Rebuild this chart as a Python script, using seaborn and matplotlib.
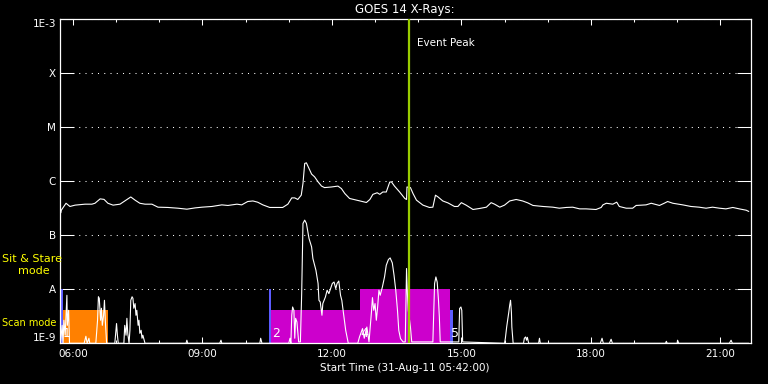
import matplotlib
matplotlib.use("Agg")
import matplotlib.pyplot as plt
import seaborn as sns
import pandas as pd
from matplotlib.ticker import FixedLocator, NullLocator, FixedFormatter

# ---------------- data ----------------
title = "GOES 14 X-Rays:"
x_label = "Start Time (31-Aug-11 05:42:00)"
x_start, x_end = 5.7, 21.7          # hours of day
x_major_hours = [6, 9, 12, 15, 18, 21]
x_major_labels = ["06:00", "09:00", "12:00", "15:00", "18:00", "21:00"]
x_minor_hours = [7, 8, 10, 11, 13, 14, 16, 17, 19, 20, 21]
y_tick_values = [1e-9, 1e-8, 1e-7, 1e-6, 1e-5, 1e-4, 1e-3]
y_tick_labels = ["1E-9", "A", "B", "C", "M", "X", "1E-3"]

# long channel (1-8 A)
long_time = [5.72, 5.73, 5.84, 5.93, 6.05, 6.28, 6.44, 6.51, 6.63, 6.72, 6.81, 6.93,
             7.09, 7.20, 7.34, 7.44, 7.55, 7.67, 7.83, 7.97, 8.20, 8.43, 8.64, 8.83,
             8.99, 9.22, 9.45, 9.59, 9.80, 9.91, 10.05, 10.17, 10.28, 10.40, 10.56,
             10.72, 10.86, 10.98, 11.07, 11.14, 11.21, 11.29, 11.33, 11.37, 11.41,
             11.47, 11.53, 11.60, 11.68, 11.76, 11.83, 11.99, 12.14, 12.22, 12.30,
             12.41, 12.57, 12.80, 12.88, 12.95, 13.05, 13.11, 13.18, 13.26, 13.34,
             13.38, 13.45, 13.57, 13.69, 13.73, 13.74, 13.82, 13.88, 13.96, 14.11,
             14.26, 14.34, 14.40, 14.46, 14.57, 14.69, 14.84, 14.92, 15.00, 15.11,
             15.27, 15.42, 15.58, 15.69, 15.77, 15.89, 16.00, 16.12, 16.27, 16.42,
             16.54, 16.66, 16.89, 17.12, 17.27, 17.43, 17.58, 17.74, 17.89, 18.12,
             18.24, 18.28, 18.36, 18.51, 18.60, 18.66, 18.82, 18.97, 19.05, 19.28,
             19.40, 19.59, 19.70, 19.78, 19.90, 20.13, 20.32, 20.51, 20.67, 20.82,
             20.98, 21.13, 21.29, 21.44, 21.60, 21.66]
long_flux = [2.6e-7, 2.9e-7, 3.9e-7, 3.4e-7, 3.6e-7, 3.75e-7, 3.75e-7, 3.9e-7, 4.7e-7,
             4.6e-7, 3.9e-7, 3.6e-7, 3.75e-7, 4.3e-7, 5.1e-7, 4.45e-7, 3.9e-7, 3.75e-7,
             3.75e-7, 3.3e-7, 3.26e-7, 3.16e-7, 3.03e-7, 3.2e-7, 3.3e-7, 3.4e-7, 3.64e-7,
             3.55e-7, 3.75e-7, 3.64e-7, 4.2e-7, 4.3e-7, 4.08e-7, 3.64e-7, 3.26e-7,
             3.26e-7, 3.26e-7, 3.75e-7, 4.9e-7, 4.9e-7, 4.58e-7, 5.5e-7, 9.05e-7,
             2.13e-6, 2.18e-6, 1.72e-6, 1.35e-6, 1.2e-6, 9.7e-7, 8.1e-7, 7.6e-7, 7.8e-7,
             8.1e-7, 7.3e-7, 5.9e-7, 4.78e-7, 4.45e-7, 4.03e-7, 4.58e-7, 5.7e-7, 6.1e-7,
             5.7e-7, 6.3e-7, 6.3e-7, 9.6e-7, 9.7e-7, 8.1e-7, 6.3e-7, 4.78e-7, 4.58e-7,
             7.8e-7, 7.6e-7, 5.9e-7, 4.45e-7, 3.6e-7, 3.26e-7, 3.3e-7, 5.5e-7, 5.1e-7,
             4.3e-7, 3.96e-7, 3.4e-7, 3.4e-7, 4.0e-7, 3.6e-7, 2.99e-7, 3.12e-7, 3.3e-7,
             4.0e-7, 3.75e-7, 3.3e-7, 3.6e-7, 4.3e-7, 4.58e-7, 4.3e-7, 3.96e-7, 3.55e-7,
             3.4e-7, 3.3e-7, 3.16e-7, 3.26e-7, 3.3e-7, 3.07e-7, 3.07e-7, 2.99e-7,
             3.26e-7, 3.64e-7, 3.9e-7, 3.75e-7, 4.08e-7, 3.4e-7, 3.16e-7, 3.16e-7,
             3.55e-7, 3.64e-7, 3.9e-7, 3.55e-7, 3.9e-7, 4.2e-7, 3.9e-7, 3.64e-7, 3.4e-7,
             3.3e-7, 3.16e-7, 3.3e-7, 3.16e-7, 3.07e-7, 3.26e-7, 3.07e-7, 2.9e-7, 2.75e-7]

# short channel (0.5-4 A)
short_time = [5.71, 5.75, 5.77, 5.79, 5.82, 5.86, 5.87, 5.90, 5.92, 6.26, 6.30, 6.33,
              6.37, 6.39, 6.53, 6.57, 6.59, 6.61, 6.64, 6.66, 6.68, 6.71, 6.73, 6.75,
              6.78, 6.97, 7.01, 7.03, 7.05, 7.18, 7.20, 7.23, 7.25, 7.27, 7.30, 7.32,
              7.34, 7.37, 7.39, 7.41, 7.44, 7.46, 7.48, 7.51, 7.53, 7.55, 7.58, 7.60,
              7.62, 7.67, 8.62, 8.64, 8.66, 9.40, 9.43, 9.45, 10.33, 10.35, 10.38,
              11.00, 11.03, 11.05, 11.07, 11.09, 11.12, 11.14, 11.16, 11.19, 11.23,
              11.27, 11.30, 11.33, 11.37, 11.41, 11.47, 11.53, 11.56, 11.63, 11.68,
              11.70, 11.73, 11.77, 11.79, 11.85, 11.89, 11.93, 11.97, 12.01, 12.05,
              12.09, 12.12, 12.16, 12.20, 12.23, 12.26, 12.32, 12.35, 12.38, 12.60,
              12.64, 12.71, 12.75, 12.81, 12.86, 12.92, 12.94, 12.97, 13.00, 13.03,
              13.06, 13.09, 13.12, 13.17, 13.22, 13.26, 13.31, 13.35, 13.40, 13.44,
              13.48, 13.52, 13.55, 13.59, 13.65, 13.70, 13.73, 13.75, 13.77, 13.82,
              13.85, 14.34, 14.38, 14.41, 14.44, 14.47, 14.49, 14.51, 14.94, 14.96,
              14.99, 15.01, 15.03, 16.00, 16.02, 16.05, 16.08, 16.10, 16.12, 16.14,
              16.16, 16.17, 16.20, 16.44, 16.46, 16.49, 16.51, 16.53, 16.56, 16.79,
              16.81, 16.83, 18.22, 18.26, 18.29, 18.43, 18.47, 18.50, 19.73, 19.75,
              19.77, 20.00, 20.01, 20.04, 21.21, 21.25, 21.28, 21.66]
short_flux = [1.0e-9, 2.15e-9, 1.0e-9, 2.67e-9, 1.41e-9, 7.74e-9, 2.15e-9, 4.08e-9,
              1.0e-9, 1.0e-9, 1.35e-9, 1.0e-9, 1.24e-9, 1.0e-9, 1.0e-9, 2.67e-9,
              7.26e-9, 6.8e-9, 2.67e-9, 4.45e-9, 2.15e-9, 3.3e-9, 6.25e-9, 2.67e-9,
              1.0e-9, 1.0e-9, 2.32e-9, 1.41e-9, 1.0e-9, 1.0e-9, 2.15e-9, 1.41e-9,
              2.9e-9, 1.53e-9, 1.0e-9, 1.74e-9, 6.25e-9, 7.26e-9, 6.8e-9, 4.45e-9,
              5.43e-9, 3.3e-9, 4.08e-9, 2.15e-9, 2.67e-9, 1.53e-9, 1.74e-9, 1.24e-9,
              1.41e-9, 1.0e-9, 1.0e-9, 1.14e-9, 1.0e-9, 1.0e-9, 1.14e-9, 1.0e-9,
              1.0e-9, 1.24e-9, 1.0e-9, 1.0e-9, 1.24e-9, 1.0e-9, 3.3e-9, 4.7e-9,
              4.08e-9, 1.24e-9, 2.9e-9, 2.48e-9, 1.06e-9, 1.06e-9, 8.3e-9, 1.65e-7,
              1.9e-7, 1.65e-7, 8.7e-8, 6.07e-8, 3.7e-8, 2.25e-8, 1.28e-8, 6.25e-9,
              5.82e-9, 3.3e-9, 5.43e-9, 7.2e-9, 9.6e-9, 8.3e-9, 1.03e-8, 1.28e-8,
              1.36e-8, 1.03e-8, 1.28e-8, 1.42e-8, 7.74e-9, 6.25e-9, 4.08e-9, 1.74e-9,
              1.31e-9, 1.0e-9, 1.0e-9, 1.31e-9, 1.87e-9, 1.24e-9, 2.0e-9, 1.06e-9,
              4.08e-9, 7.0e-9, 4.08e-9, 5.43e-9, 2.67e-9, 4.7e-9, 9.6e-9, 7.74e-9,
              1.1e-8, 1.69e-8, 2.78e-8, 3.55e-8, 3.8e-8, 3.07e-8, 1.82e-8, 9.6e-9,
              4.08e-9, 1.74e-9, 1.22e-9, 1.06e-9, 1.06e-9, 2.42e-8, 8.3e-9, 4.08e-9,
              2.0e-9, 1.06e-9, 1.06e-9, 1.28e-8, 1.69e-8, 1.36e-8, 6.25e-9, 3.07e-9,
              1.06e-9, 1.06e-9, 4.4e-9, 4.7e-9, 4.08e-9, 1.06e-9, 1.0e-9, 1.24e-9,
              2.0e-9, 2.9e-9, 3.8e-9, 5.06e-9, 6.25e-9, 3.75e-9, 2.0e-9, 1.0e-9,
              1.0e-9, 1.24e-9, 1.31e-9, 1.14e-9, 1.29e-9, 1.0e-9, 1.0e-9, 1.24e-9,
              1.0e-9, 1.0e-9, 1.24e-9, 1.0e-9, 1.0e-9, 1.19e-9, 1.0e-9, 1.0e-9,
              1.09e-9, 1.0e-9, 1.0e-9, 1.14e-9, 1.0e-9, 1.0e-9, 1.14e-9, 1.0e-9, 1.0e-9]

# instrument mode bars
mode_start = [5.72, 5.77, 10.54, 10.60, 12.64, 14.73]
mode_end = [5.77, 6.81, 10.60, 14.73, 14.73, 14.80]
mode_level = [1.0e-8, 4.1e-9, 1.0e-8, 4.1e-9, 1.0e-8, 4.1e-9]
mode_colors = ["#5c5cff", "#ff8000", "#5c5cff", "#cc00cc", "#cc00cc", "#5c5cff"]
mode_label_text = ["1", "2", "4", "5"]
mode_label_time = [5.77, 10.62, 12.66, 14.76]

event_peak_time = 13.78
event_label = "Event Peak"

# ---------------- plot ----------------
sns.set_style("dark")
plt.rcParams["font.family"] = ["DejaVu Sans"]

fig = plt.figure(figsize=(7.68, 3.84), dpi=100, facecolor="black")
ax = fig.add_axes([60 / 768, 1 - 343.3 / 384, 690.5 / 768, 324.3 / 384])
ax.set_facecolor("black")
ax.set_yscale("log")

floor = y_tick_values[0]
ax.bar(mode_start, [lv - floor for lv in mode_level],
       width=[e - s for s, e in zip(mode_start, mode_end)],
       bottom=floor, align="edge", color=mode_colors, linewidth=0, zorder=1)

for txt, t in zip(mode_label_text, mode_label_time):
    ax.text(t, 1.5e-9, txt, color="white", fontsize=9, ha="left", va="center", zorder=3)

long_df = pd.DataFrame({"time": long_time, "flux": long_flux})
short_df = pd.DataFrame({"time": short_time, "flux": short_flux})
sns.lineplot(data=short_df, x="time", y="flux", estimator=None, sort=False,
             color="white", linewidth=0.8, ax=ax, zorder=4)
sns.lineplot(data=long_df, x="time", y="flux", estimator=None, sort=False,
             color="white", linewidth=0.8, ax=ax, zorder=4)

ax.axvline(event_peak_time, color="#99cc00", linewidth=1.6, zorder=5)
ax.text(event_peak_time + 0.2, 10 ** (-3 - 24 / 54), event_label, color="white",
        fontsize=7.5, ha="left", va="center", zorder=6)

ax.set_xlim(x_start, x_end)
ax.set_ylim(y_tick_values[0], y_tick_values[-1])

ax.yaxis.set_major_locator(FixedLocator(y_tick_values))
ax.yaxis.set_major_formatter(FixedFormatter(y_tick_labels))
ax.yaxis.set_minor_locator(NullLocator())
ax.xaxis.set_major_locator(FixedLocator(x_major_hours))
ax.xaxis.set_major_formatter(FixedFormatter(x_major_labels))
ax.xaxis.set_minor_locator(FixedLocator(x_minor_hours))

ax.grid(False)
ax.grid(axis="y", which="major", color="white", linestyle=(0, (1, 5)), linewidth=0.75, zorder=0)
ax.set_axisbelow(True)

ax.tick_params(axis="y", which="major", direction="in", length=10.3, width=0.75,
               color="white", labelcolor="white", labelsize=7.5, left=True, right=True, pad=3)
ax.tick_params(axis="x", which="major", direction="in", length=4.3, width=0.75,
               color="white", labelcolor="white", labelsize=7.5, top=True, bottom=True, pad=4)
ax.tick_params(axis="x", which="minor", direction="in", length=2.2, width=0.75,
               color="white", top=True, bottom=True)

fig.canvas.draw()
ylabels = ax.get_yticklabels()
ylabels[0].set_verticalalignment("bottom")
ylabels[-1].set_verticalalignment("top")

for sp in ax.spines.values():
    sp.set_color("white")
    sp.set_linewidth(0.9)
    sp.set_visible(True)

ax.set_xlabel(x_label, color="white", fontsize=7.5, labelpad=3)
ax.set_ylabel("")
ax.set_title(title, color="white", fontsize=8.5, pad=4)

fig.text(2 / 768, 1 - 259 / 384, "Sit & Stare", color="#ffff00", fontsize=8, ha="left", va="center")
fig.text(34 / 768, 1 - 271 / 384, "mode", color="#ffff00", fontsize=8, ha="center", va="center")
fig.text(2 / 768, 1 - 323 / 384, "Scan mode", color="#ffff00", fontsize=7, ha="left", va="center")

fig.savefig("out.png", dpi=100, facecolor="black")
